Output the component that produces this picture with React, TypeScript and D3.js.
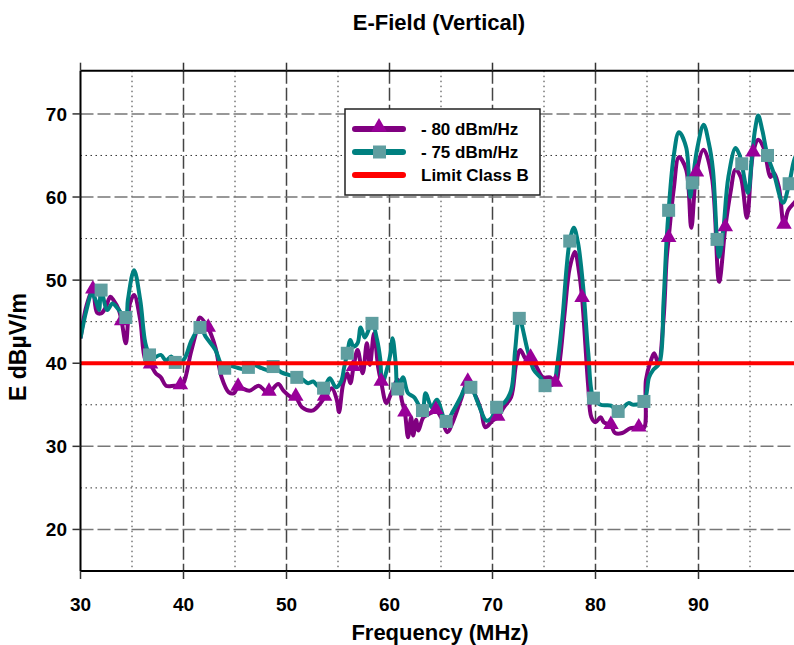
import React from "react";
import * as d3 from "d3";

// -75 dBm/Hz (teal)
const freq75 = [30.0, 30.6, 31.1, 31.5, 31.8, 32.0, 32.6, 33.1, 33.6, 34.4, 34.6, 35.2, 35.8, 36.3, 36.7, 37.0, 37.8, 38.3, 38.8, 39.2, 40.0, 40.8, 41.6, 42.2, 43.1, 43.6, 44.0, 44.5, 45.1, 45.8, 46.3, 46.8, 47.6, 48.1, 48.7, 49.5, 50.2, 51.0, 51.5, 52.1, 52.6, 53.0, 53.6, 54.2, 54.8, 55.3, 55.6, 55.9, 56.2, 56.5, 56.9, 57.2, 57.6, 58.3, 58.8, 59.1, 59.3, 59.8, 60.1, 60.3, 60.6, 60.8, 61.3, 61.8, 62.4, 63.2, 63.5, 64.1, 64.6, 65.5, 66.2, 66.9, 67.4, 67.9, 68.6, 69.4, 69.9, 70.4, 71.1, 71.8, 72.2, 72.6, 73.4, 74.0, 74.7, 75.1, 75.9, 76.3, 76.8, 77.2, 77.5, 77.9, 78.3, 78.8, 79.3, 79.8, 80.5, 81.5, 82.2, 83.2, 83.7, 84.7, 85.2, 85.6, 86.2, 86.6, 86.9, 87.1, 87.6, 88.1, 88.8, 89.2, 89.4, 89.9, 90.5, 91.0, 91.4, 91.8, 92.0, 92.4, 92.9, 93.6, 94.0, 94.2, 94.8, 95.2, 95.5, 95.8, 96.2, 96.7, 97.3, 98.2, 98.8, 99.3, 99.8];
const val75 = [43.0, 46.5, 48.4, 47.5, 46.4, 48.8, 46.4, 47.2, 46.6, 45.5, 47.6, 51.2, 47.6, 42.4, 41.0, 40.6, 41.0, 40.3, 40.8, 40.1, 40.4, 42.8, 44.3, 43.1, 41.6, 40.0, 39.4, 39.7, 39.5, 39.3, 39.5, 39.8, 39.4, 39.2, 39.6, 38.9, 38.6, 38.3, 38.1, 37.6, 37.8, 37.3, 37.0, 38.2, 37.1, 37.8, 39.5, 41.2, 42.8, 42.0, 42.4, 44.3, 43.1, 44.8, 42.8, 40.5, 37.6, 39.5, 41.2, 43.0, 40.0, 36.9, 38.3, 36.4, 35.9, 34.3, 36.4, 34.7, 35.6, 33.0, 34.3, 35.9, 37.1, 37.1, 35.2, 33.1, 33.4, 34.7, 35.2, 36.7, 41.6, 45.4, 41.6, 39.2, 38.2, 37.3, 37.5, 40.0, 45.5, 51.6, 54.7, 56.3, 54.5, 49.2, 41.2, 35.8, 35.0, 34.9, 34.2, 35.2, 35.0, 35.4, 38.3, 39.2, 40.0, 47.2, 54.8, 58.4, 65.0, 67.8, 66.0, 60.0, 61.7, 66.0, 68.7, 66.5, 63.3, 54.9, 52.8, 56.0, 62.4, 65.9, 65.0, 64.0, 60.5, 65.0, 68.2, 69.8, 68.0, 65.0, 62.9, 59.3, 61.6, 64.5, 65.8];
const marks75 = [32.0, 34.4, 36.7, 39.2, 41.6, 44.0, 46.3, 48.7, 51.0, 53.6, 55.9, 58.3, 60.8, 63.2, 65.5, 67.9, 70.4, 72.6, 75.1, 77.5, 79.8, 82.2, 84.7, 87.1, 89.4, 91.8, 94.2, 96.7, 98.8];

// -80 dBm/Hz (purple)
const freq80 = [30.0, 30.6, 31.2, 31.6, 32.0, 32.4, 32.9, 33.2, 33.7, 34.0, 34.4, 34.8, 35.2, 35.8, 36.3, 36.8, 37.3, 37.8, 38.3, 39.1, 39.7, 40.0, 40.7, 41.2, 41.6, 42.4, 43.1, 43.7, 44.4, 44.9, 45.3, 46.4, 47.3, 47.9, 48.3, 49.2, 49.7, 50.5, 50.9, 51.5, 52.5, 53.1, 53.7, 54.4, 54.9, 55.1, 55.5, 55.9, 56.2, 56.5, 56.9, 57.4, 57.8, 58.1, 58.5, 58.9, 59.2, 59.7, 60.2, 60.8, 61.2, 61.5, 61.8, 62.1, 62.3, 62.6, 62.8, 63.3, 64.0, 64.5, 65.0, 65.6, 66.2, 66.9, 67.6, 68.2, 68.9, 69.3, 70.0, 70.5, 71.1, 71.8, 72.3, 72.7, 73.3, 73.7, 74.3, 74.9, 75.6, 76.1, 76.5, 77.0, 77.5, 78.0, 78.4, 78.7, 79.3, 79.6, 80.0, 80.5, 80.8, 81.5, 81.9, 82.6, 83.4, 84.2, 84.7, 84.9, 85.4, 85.7, 86.1, 86.6, 86.9, 87.1, 87.6, 88.1, 88.8, 89.3, 89.8, 90.5, 91.3, 92.0, 92.6, 93.1, 93.6, 94.1, 94.7, 95.3, 95.8, 96.3, 97.0, 97.3, 97.8, 98.3, 98.7, 99.3, 99.8];
const val80 = [43.0, 47.0, 48.8, 46.1, 46.0, 46.6, 48.0, 47.6, 46.5, 45.0, 42.4, 47.2, 48.2, 45.2, 40.4, 39.8, 38.8, 38.3, 37.3, 37.3, 37.3, 37.6, 41.2, 43.6, 45.5, 44.2, 41.9, 38.3, 36.5, 36.4, 37.1, 36.7, 37.3, 36.7, 36.5, 37.5, 36.7, 35.9, 35.9, 34.7, 34.3, 34.9, 35.9, 37.0, 35.5, 34.1, 37.5, 38.8, 37.6, 39.5, 41.6, 38.8, 42.4, 39.8, 43.6, 39.5, 37.7, 35.2, 36.5, 38.0, 35.5, 34.0, 31.1, 33.5, 31.3, 33.2, 31.9, 33.5, 34.0, 34.3, 33.5, 31.7, 33.1, 35.5, 37.7, 36.5, 34.3, 32.3, 33.1, 33.5, 34.7, 35.9, 40.0, 41.6, 40.4, 40.6, 39.5, 38.3, 38.3, 37.6, 40.0, 46.0, 51.5, 53.4, 51.0, 47.8, 37.1, 33.5, 32.9, 33.5, 32.9, 32.5, 31.6, 31.6, 32.2, 32.2, 32.2, 38.0, 40.4, 41.2, 40.0, 45.2, 52.4, 55.0, 61.0, 64.8, 63.3, 56.3, 62.9, 65.7, 62.4, 49.8, 56.3, 60.5, 63.3, 62.4, 57.5, 65.3, 66.9, 66.0, 62.4, 62.9, 61.2, 56.6, 58.4, 59.3, 60.0];
const marks80 = [31.2, 34.0, 36.8, 39.7, 42.4, 45.3, 48.3, 50.9, 53.7, 56.5, 59.2, 61.5, 64.5, 67.6, 70.5, 73.7, 76.1, 78.7, 81.5, 84.2, 87.1, 89.8, 92.6, 95.3, 98.3];

const limitClassB = 40;
const xTicks = [30, 40, 50, 60, 70, 80, 90];
const xMinor = [35, 45, 55, 65, 75, 85, 95];
const yTicks = [20, 30, 40, 50, 60, 70];
const yMinor = [25, 35, 45, 55, 65];

const W = 794;
const H = 645;
const left = 80.5;
const top = 70.7;
const bottom = 571;

const font = "'Liberation Sans', Arial, Helvetica, sans-serif";

export default function App() {
  const x = d3.scaleLinear().domain([30, 100]).range([left, 801.5]);
  const y = d3.scaleLinear().domain([15, 75.2]).range([bottom, top]);

  const pts75 = freq75.map((f, i) => [f, val75[i]] as [number, number]);
  const pts80 = freq80.map((f, i) => [f, val80[i]] as [number, number]);

  const line = d3
    .line<[number, number]>()
    .x(d => x(d[0]))
    .y(d => y(d[1]))
    .curve(d3.curveCatmullRom.alpha(0.5));

  const nearest = (pts: [number, number][], f: number) =>
    pts.reduce((a, b) => (Math.abs(b[0] - f) < Math.abs(a[0] - f) ? b : a));

  const tri = d3.symbol().type(d3.symbolTriangle).size(105)();
  const right = W;

  return (
    <svg width={W} height={H} style={{ position: "absolute", left: 0, top: 0 }} fontFamily={font}>
      <rect width={W} height={H} fill="#fff" />
      <defs>
        <clipPath id="plot">
          <rect x={left} y={top} width={right - left} height={bottom - top} />
        </clipPath>
      </defs>

      <text x={439} y={30} textAnchor="middle" fontSize={22} fontWeight="bold">
        E-Field (Vertical)
      </text>

      {/* grid */}
      {xMinor.map(v => (
        <line key={"xm" + v} x1={x(v)} x2={x(v)} y1={top} y2={bottom} stroke="#333" strokeWidth={1} strokeDasharray="1.5,3.5" />
      ))}
      {yMinor.map(v => (
        <line key={"ym" + v} x1={left} x2={right} y1={y(v)} y2={y(v)} stroke="#333" strokeWidth={1} strokeDasharray="1.5,3.5" />
      ))}
      {xTicks.slice(1).map(v => (
        <line key={"xg" + v} x1={x(v)} x2={x(v)} y1={top} y2={bottom} stroke="#444" strokeWidth={1.5} strokeDasharray="13,4" />
      ))}
      {yTicks.map(v => (
        <line key={"yg" + v} x1={left} x2={right} y1={y(v)} y2={y(v)} stroke="#777" strokeWidth={1.5} strokeDasharray="13,4" />
      ))}

      {/* series */}
      <g clipPath="url(#plot)">
        <path d={line(pts80) || ""} fill="none" stroke="#800080" strokeWidth={4} strokeLinejoin="round" />
        <path d={line(pts75) || ""} fill="none" stroke="#008080" strokeWidth={4} strokeLinejoin="round" />
        {marks80.map(f => {
          const p = nearest(pts80, f);
          return <path key={"t" + f} d={tri || ""} transform={`translate(${x(p[0])},${y(p[1]) - 1})`} fill="#990099" />;
        })}
        {marks75.map(f => {
          const p = nearest(pts75, f);
          return <rect key={"s" + f} x={x(p[0]) - 6.5} y={y(p[1]) - 6.5} width={13} height={13} fill="#5F9EA0" />;
        })}
        <line x1={left} x2={right} y1={y(limitClassB)} y2={y(limitClassB)} stroke="#ff0000" strokeWidth={4} />
      </g>

      {/* axes */}
      <line x1={left} x2={right} y1={top} y2={top} stroke="#000" strokeWidth={2} />
      <line x1={left} x2={right} y1={bottom} y2={bottom} stroke="#000" strokeWidth={2} />
      <line x1={left} x2={left} y1={top} y2={bottom} stroke="#000" strokeWidth={2} />
      {xTicks.map(v => (
        <g key={"xt" + v}>
          <line x1={x(v)} x2={x(v)} y1={bottom} y2={bottom + 8} stroke="#333" strokeWidth={1.5} />
          <line x1={x(v)} x2={x(v)} y1={top} y2={top - 8} stroke="#333" strokeWidth={1.5} />
          <text x={x(v)} y={611} textAnchor="middle" fontSize={19} fontWeight="bold">
            {v}
          </text>
        </g>
      ))}
      {yTicks.map(v => (
        <g key={"yt" + v}>
          <line x1={left - 8} x2={left} y1={y(v)} y2={y(v)} stroke="#333" strokeWidth={1.5} />
          <text x={67} y={y(v) + 7} textAnchor="end" fontSize={19} fontWeight="bold">
            {v}
          </text>
        </g>
      ))}
      <text x={440} y={640} textAnchor="middle" fontSize={22} fontWeight="bold">
        Frequency (MHz)
      </text>
      <text transform={`translate(26,347) rotate(-90)`} textAnchor="middle" fontSize={23} fontWeight="bold">
        E dBµV/m
      </text>

      {/* legend */}
      <rect x={345} y={109} width={195} height={86} fill="#fff" stroke="#222" strokeWidth={1.5} />
      <line x1={355} x2={403} y1={129} y2={129} stroke="#800080" strokeWidth={6} strokeLinecap="round" />
      <path d={tri || ""} transform="translate(379,127)" fill="#990099" />
      <line x1={355} x2={403} y1={152} y2={152} stroke="#008080" strokeWidth={6} strokeLinecap="round" />
      <rect x={373} y={145.5} width={13} height={13} fill="#5F9EA0" />
      <line x1={355} x2={403} y1={175} y2={175} stroke="#ff0000" strokeWidth={6} strokeLinecap="round" />
      <text x={421} y={135} fontSize={17} fontWeight="bold">- 80 dBm/Hz</text>
      <text x={421} y={158} fontSize={17} fontWeight="bold">- 75 dBm/Hz</text>
      <text x={421} y={181} fontSize={17} fontWeight="bold">Limit Class B</text>
    </svg>
  );
}
